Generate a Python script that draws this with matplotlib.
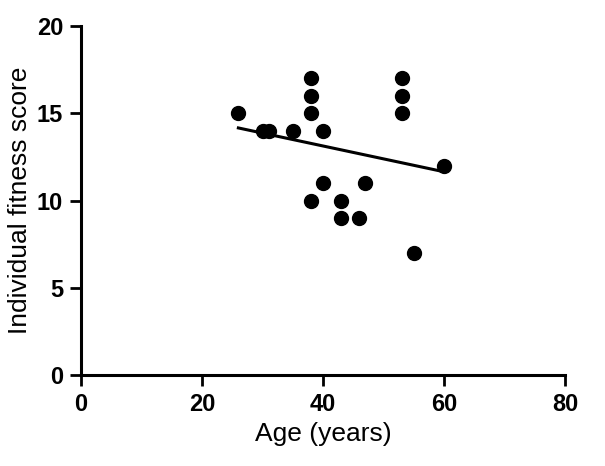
import numpy as np
import matplotlib.pyplot as plt

plt.rcParams['font.family'] = ['Liberation Sans', 'DejaVu Sans']

age = [26, 30, 31, 35, 38, 38, 38, 40, 38, 40, 43, 43, 46, 47, 53, 53, 53, 55, 60]
score = [15, 14, 14, 14, 17, 16, 15, 14, 10, 11, 10, 9, 9, 11, 17, 16, 15, 7, 12]

# linear fit over the observed age range
slope, intercept = np.polyfit(age, score, 1)
xfit = np.array([min(age), max(age)])
yfit = slope * xfit + intercept

fig = plt.figure(figsize=(6.05, 4.66), dpi=100)
ax = fig.add_axes([0.134, 0.195, 0.800, 0.749])

ax.scatter(age, score, s=100, color='black', zorder=3, clip_on=False)
ax.plot(xfit, yfit, color='black', linewidth=2.2, zorder=2)

ax.set_xlim(0, 80)
ax.set_ylim(0, 20)
ax.set_xticks([0, 20, 40, 60, 80])
ax.set_yticks([0, 5, 10, 15, 20])

for side in ['top', 'right']:
    ax.spines[side].set_visible(False)
for side in ['left', 'bottom']:
    ax.spines[side].set_linewidth(2.2)

ax.tick_params(direction='out', length=8, width=2, labelsize=17, pad=5)
for lbl in ax.get_xticklabels() + ax.get_yticklabels():
    lbl.set_fontweight('bold')

ax.set_xlabel('Age (years)', fontsize=19, labelpad=4)
ax.set_ylabel('Individual fitness score', fontsize=19, labelpad=3)

plt.savefig('out.png', dpi=100)
